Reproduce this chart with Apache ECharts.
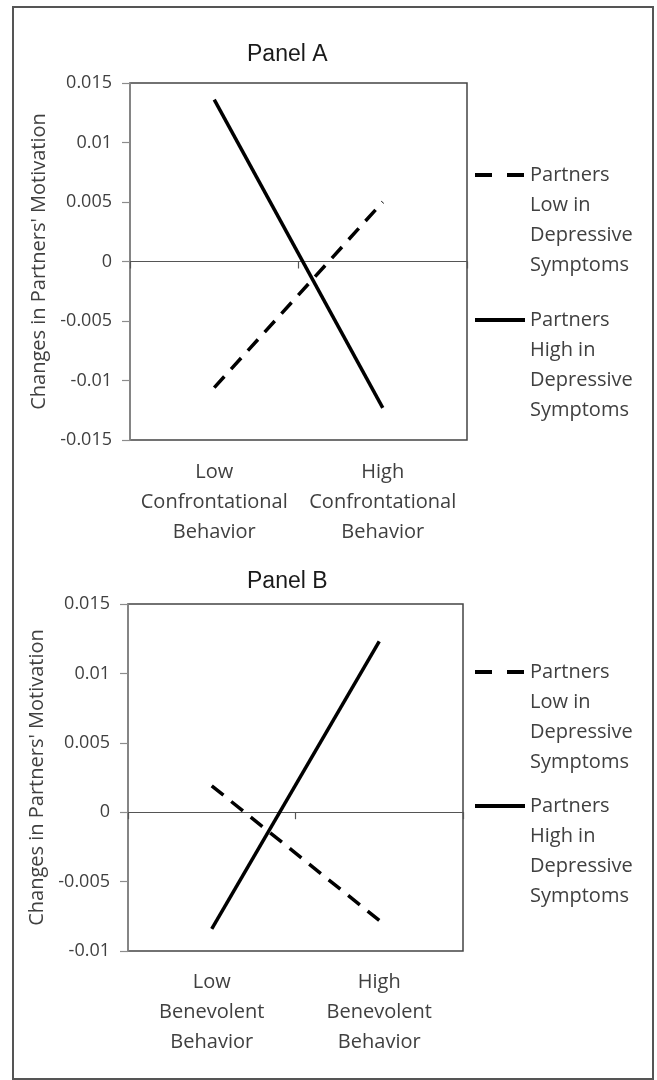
<!DOCTYPE html>
<html>
<head>
<meta charset="utf-8">
<script src="https://cdn.jsdelivr.net/npm/echarts@6/dist/echarts.min.js"></script>
<style>
html,body{margin:0;padding:0;background:#fff;}
#chart{width:657px;height:1080px;}
</style>
</head>
<body>
<div id="chart"></div>
<script>
// ---- data ----
const titles = ['Panel A', 'Panel B'];
const categoriesA = ['Low\nConfrontational\nBehavior', 'High\nConfrontational\nBehavior'];
const categoriesB = ['Low\nBenevolent\nBehavior', 'High\nBenevolent\nBehavior'];
const seriesNames = ['Partners Low in Depressive Symptoms', 'Partners High in Depressive Symptoms'];
const lowDepA = [-0.0106, 0.0050];
const highDepA = [0.0136, -0.0123];
const lowDepB = [0.0019, -0.0078];
const highDepB = [-0.0084, 0.0123];
const yAxisName = "Changes in Partners' Motivation";

const textFont = "Open Sans, sans-serif";
const textColor = '#404040';

const chart = echarts.init(document.getElementById('chart'), null, {renderer: 'canvas'});

function labelAxis(grid, cats, margin) {
  return {
    type: 'category', gridIndex: grid, data: cats, position: 'bottom',
    boundaryGap: true,
    axisLine: {show: false, onZero: false},
    axisTick: {show: false},
    axisLabel: {interval: 0, margin: margin, fontSize: 20, lineHeight: 30,
      color: textColor, fontFamily: textFont}
  };
}
function zeroAxis(grid, cats) {
  return {
    type: 'category', gridIndex: grid, data: cats, position: 'top',
    boundaryGap: true,
    axisLine: {show: true, onZero: true, lineStyle: {color: '#555', width: 1.2}},
    axisTick: {show: true, inside: true, length: 7, lineStyle: {color: '#555', width: 1.2}},
    axisLabel: {show: false}
  };
}
function valAxis(grid, min, max) {
  return {
    type: 'value', gridIndex: grid, min: min, max: max, interval: 0.005,
    name: yAxisName, nameLocation: 'middle', nameGap: 80,
    nameTextStyle: {fontSize: 20, color: textColor, fontFamily: textFont},
    axisLine: {show: true, lineStyle: {color: '#8c8c8c', width: 1.5}},
    axisTick: {show: true, length: 8, lineStyle: {color: '#8c8c8c', width: 1.2}},
    splitLine: {show: false},
    axisLabel: {fontSize: 18, color: textColor, fontFamily: textFont, margin: 18}
  };
}
const dashStyle = {color: '#000', width: 3.5, type: [15, 10]};
const solidStyle = {color: '#000', width: 3.5, type: 'solid'};

function legendFor(name, top, dashed) {
  return {
    data: [name], left: 473, top: top, orient: 'vertical', padding: 0,
    selectedMode: false,
    itemWidth: 50, itemHeight: 14,
    itemStyle: {opacity: 0},
    lineStyle: {color: '#000', width: 4, type: dashed ? [17, 15] : 'solid'},
    formatter: n => ' \n \n \n' + n.replace('Partners ', 'Partners\n').replace(' in ', ' in\n').replace('Depressive ', 'Depressive\n'),
    textStyle: {fontSize: 20, lineHeight: 30, color: textColor, fontFamily: textFont}
  };
}

const option = {
  animation: false,
  backgroundColor: '#fff',
  graphic: [{
    type: 'rect', shape: {x: 13, y: 7, width: 640, height: 1072},
    style: {fill: 'none', stroke: '#555', lineWidth: 2}, silent: true
  }],
  title: [
    {text: titles[0], left: 247, top: 43, padding: 0,
     textStyle: {fontSize: 23, fontWeight: 'normal', color: '#1a1a1a', fontFamily: 'Liberation Sans, Arial, sans-serif'}},
    {text: titles[1], left: 247, top: 570, padding: 0,
     textStyle: {fontSize: 23, fontWeight: 'normal', color: '#1a1a1a', fontFamily: 'Liberation Sans, Arial, sans-serif'}}
  ],
  grid: [
    {left: 130, top: 83, width: 337, height: 357, show: true, borderColor: '#444', borderWidth: 1.5, backgroundColor: 'transparent'},
    {left: 128, top: 604, width: 335, height: 347, show: true, borderColor: '#444', borderWidth: 1.5, backgroundColor: 'transparent'}
  ],
  xAxis: [
    labelAxis(0, categoriesA, 17),
    zeroAxis(0, categoriesA),
    labelAxis(1, categoriesB, 16),
    zeroAxis(1, categoriesB)
  ],
  yAxis: [
    valAxis(0, -0.015, 0.015),
    valAxis(1, -0.01, 0.015)
  ],
  legend: [
    legendFor(seriesNames[0], 70, true),
    legendFor(seriesNames[1], 215, false),
    legendFor(seriesNames[0], 567, true),
    legendFor(seriesNames[1], 701, false)
  ],
  series: [
    {name: seriesNames[0], type: 'line', xAxisIndex: 0, yAxisIndex: 0, data: lowDepA, symbol: 'none', lineStyle: dashStyle, z: 3},
    {name: seriesNames[1], type: 'line', xAxisIndex: 0, yAxisIndex: 0, data: highDepA, symbol: 'none', lineStyle: solidStyle, z: 3},
    {name: seriesNames[0], type: 'line', xAxisIndex: 2, yAxisIndex: 1, data: lowDepB, symbol: 'none', lineStyle: dashStyle, z: 3},
    {name: seriesNames[1], type: 'line', xAxisIndex: 2, yAxisIndex: 1, data: highDepB, symbol: 'none', lineStyle: solidStyle, z: 3}
  ]
};
chart.setOption(option);
</script>
</body>
</html>
